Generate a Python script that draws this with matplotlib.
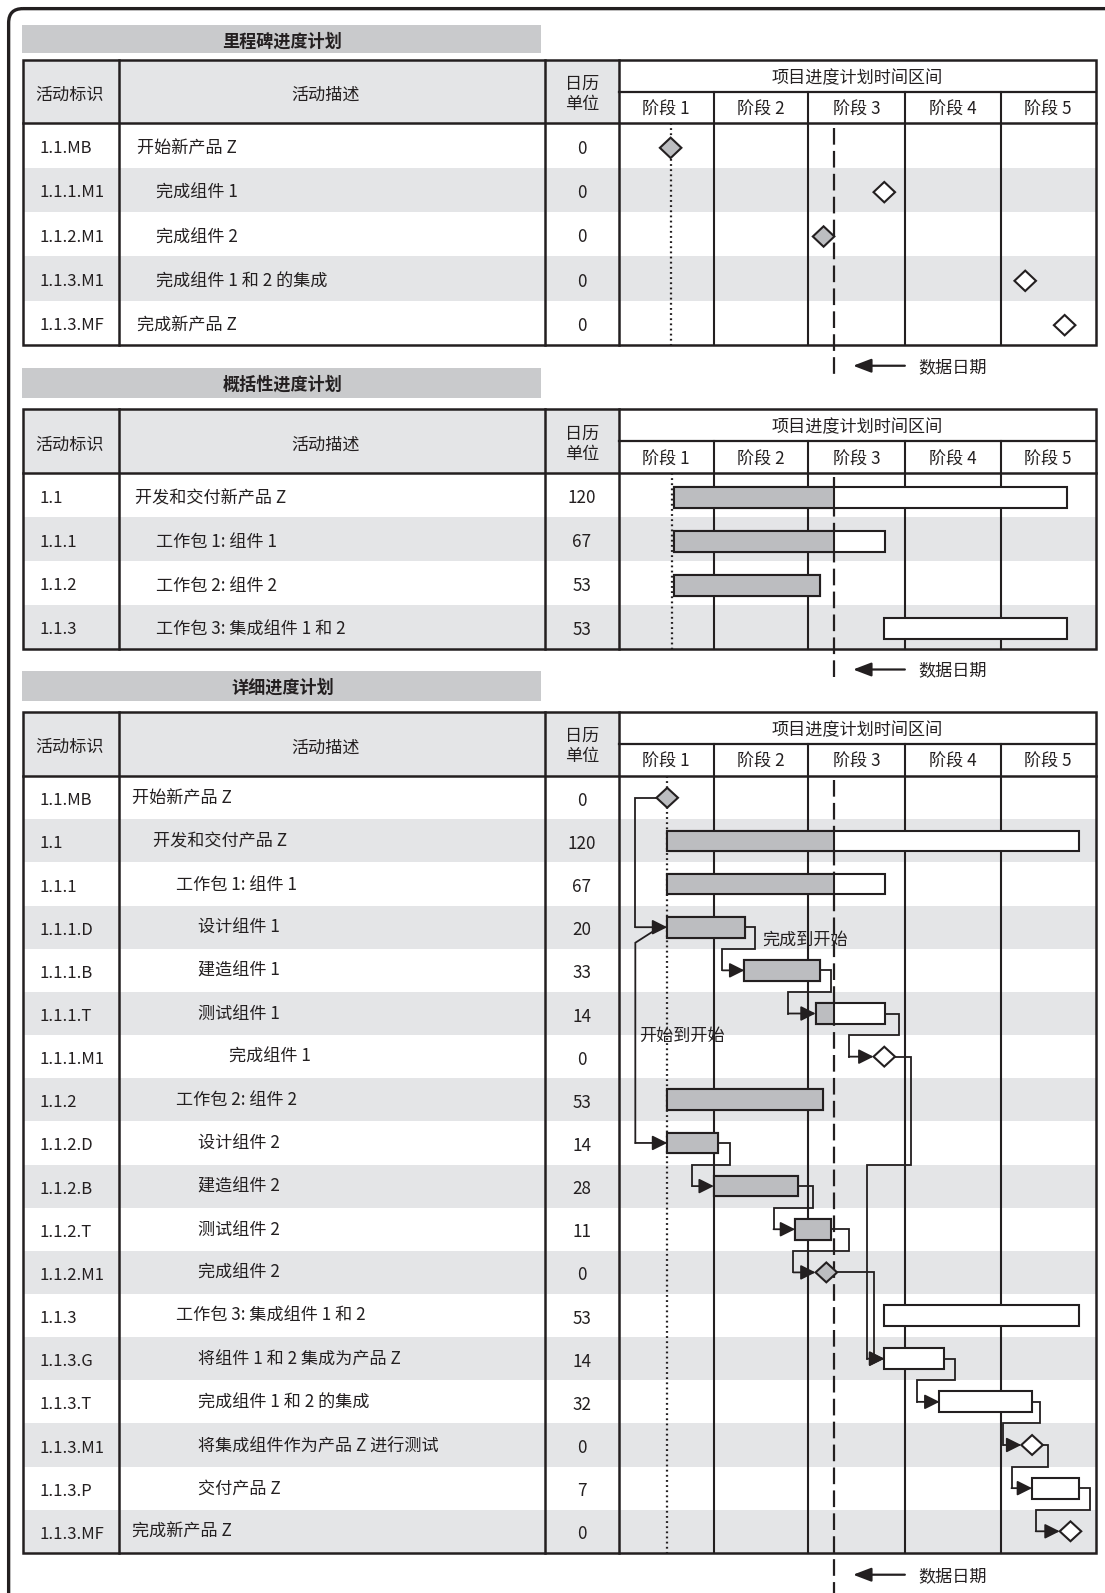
import matplotlib
matplotlib.use('Agg')
import matplotlib.pyplot as plt
from matplotlib.patches import Rectangle, Polygon, FancyBboxPatch
from matplotlib.transforms import blended_transform_factory

plt.rcParams['font.family'] = ['Noto Sans CJK SC', 'DejaVu Sans']
plt.rcParams['lines.scale_dashes'] = False

# ======================= DATA =======================
section_titles = ['里程碑进度计划', '概括性进度计划', '详细进度计划']
col_headers = ['活动标识', '活动描述', '日历\n单位']
timeline_title = '项目进度计划时间区间'
stage_labels = ['阶段 1', '阶段 2', '阶段 3', '阶段 4', '阶段 5']
stage_edges = [-14.2, 13.6, 41.1, 69.3, 97.2, 125.0]   # time axis (days)
data_date = 48.7
data_date_label = '数据日期'
link_labels = ['完成到开始', '开始到开始']

# Milestone schedule
ms_ids = ['1.1.MB', '1.1.1.M1', '1.1.2.M1', '1.1.3.M1', '1.1.3.MF']
ms_desc = ['开始新产品 Z', '完成组件 1', '完成组件 2', '完成组件 1 和 2 的集成', '完成新产品 Z']
ms_level = [0, 1, 1, 1, 0]
ms_units = [0, 0, 0, 0, 0]
ms_time = [1.0, 63.3, 45.6, 104.4, 115.9]

# Summary schedule
sum_ids = ['1.1', '1.1.1', '1.1.2', '1.1.3']
sum_desc = ['开发和交付新产品 Z', '工作包 1: 组件 1', '工作包 2: 组件 2', '工作包 3: 集成组件 1 和 2']
sum_level = [0, 1, 1, 1]
sum_units = [120, 67, 53, 53]
sum_start = [1.9, 1.9, 1.9, 63.3]
sum_end = [116.7, 63.5, 44.7, 116.7]

# Detailed schedule
det_ids = ['1.1.MB', '1.1', '1.1.1', '1.1.1.D', '1.1.1.B', '1.1.1.T', '1.1.1.M1',
           '1.1.2', '1.1.2.D', '1.1.2.B', '1.1.2.T', '1.1.2.M1', '1.1.3', '1.1.3.G',
           '1.1.3.T', '1.1.3.M1', '1.1.3.P', '1.1.3.MF']
det_desc = ['开始新产品 Z', '开发和交付产品 Z', '工作包 1: 组件 1', '设计组件 1', '建造组件 1',
            '测试组件 1', '完成组件 1', '工作包 2: 组件 2', '设计组件 2', '建造组件 2',
            '测试组件 2', '完成组件 2', '工作包 3: 集成组件 1 和 2', '将组件 1 和 2 集成为产品 Z',
            '完成组件 1 和 2 的集成', '将集成组件作为产品 Z 进行测试', '交付产品 Z', '完成新产品 Z']
det_level = [0, 1, 2, 3, 3, 3, 4, 2, 3, 3, 3, 3, 2, 3, 3, 3, 3, 0]
det_units = [0, 120, 67, 20, 33, 14, 0, 53, 14, 28, 11, 0, 53, 14, 32, 0, 7, 0]
det_kind = ['m', 'b', 'b', 'b', 'b', 'b', 'm', 'b', 'b', 'b', 'b', 'm', 'b', 'b', 'b', 'm', 'b', 'm']
det_start = [0, 0, 0, 0, 22.5, 43.3, 63.3, 0, 0, 13.6, 37.3, 46.4, 63.3, 63.3, 79.4, 106.4, 106.4, 117.6]
det_end = [0, 120, 63.5, 22.7, 44.5, 63.5, 63.3, 45.3, 14.8, 38.0, 47.7, 46.4, 120, 80.6, 106.4, 106.4, 120, 117.6]

# finish-to-start links (predecessor, successor)
fs_links = [('1.1.1.D', '1.1.1.B'), ('1.1.1.B', '1.1.1.T'), ('1.1.1.T', '1.1.1.M1'),
            ('1.1.1.M1', '1.1.3.G'), ('1.1.2.D', '1.1.2.B'), ('1.1.2.B', '1.1.2.T'),
            ('1.1.2.T', '1.1.2.M1'), ('1.1.2.M1', '1.1.3.G'), ('1.1.3.G', '1.1.3.T'),
            ('1.1.3.T', '1.1.3.M1'), ('1.1.3.M1', '1.1.3.P'), ('1.1.3.P', '1.1.3.MF')]
# start-to-start links
ss_links = [('1.1.MB', '1.1.1.D'), ('1.1.1.D', '1.1.2.D')]

# ======================= STYLE / LAYOUT =======================
LINE = '#231f20'
SHADE = '#e4e5e7'
TITLE_BG = '#c9cacc'
BAR_GRAY = '#bcbdc0'
FS = 12.3
TY = 3.0   # vertical text nudge (px)

W, H = 1088.0, 1568.0
X_ID, X_DESC, X_UNIT, X_CHART, X_RIGHT = 23, 117, 537, 609, 1079
SECTIONS = [
    dict(title=(25, 52), top=59, split=90.5, hb=121.5, bottom=339.7,
         indents=[135, 154], dd_end=371, dd_arrow=360, desc_dy=0),
    dict(title=(362, 392), top=403, split=434, hb=466, bottom=638.4,
         indents=[133, 154], dd_end=670, dd_arrow=659, desc_dy=0),
    dict(title=(660, 690), top=701, split=732, hb=764, bottom=1528.5,
         indents=[130, 151, 173, 195, 225], dd_end=1580, dd_arrow=1550, desc_dy=-2.5),
]
# routing of finish-to-start connectors: (out, back, drop_row, direct)
fs_route = {
    ('1.1.1.D', '1.1.1.B'): (3.0, 6.4, None, False),
    ('1.1.1.B', '1.1.1.T'): (3.2, 8.0, None, False),
    ('1.1.1.T', '1.1.1.M1'): (4.0, 7.2, None, False),
    ('1.1.1.M1', '1.1.3.G'): (4.7, 5.0, 9.0, False),
    ('1.1.2.D', '1.1.2.B'): (3.5, 6.3, None, False),
    ('1.1.2.B', '1.1.2.T'): (4.6, 6.3, None, False),
    ('1.1.2.T', '1.1.2.M1'): (5.2, 6.5, None, False),
    ('1.1.2.M1', '1.1.3.G'): (0, 3.0, None, True),
    ('1.1.3.G', '1.1.3.T'): (3.2, 6.5, None, False),
    ('1.1.3.T', '1.1.3.M1'): (2.4, 5.2, None, False),
    ('1.1.3.M1', '1.1.3.P'): (1.5, 6.0, None, False),
    ('1.1.3.P', '1.1.3.MF'): (3.2, 7.0, None, False),
}
SS_LANE = -9.3
HW = 3.14      # diamond half width (days)
HH = 0.23      # diamond half height (rows)
BAR_H = 0.48

fig = plt.figure(figsize=(11.05, 15.93), dpi=100)
bg = fig.add_axes([0, 0, 1, 1])
bg.set_xlim(0, W)
bg.set_ylim(H, 0)
bg.axis('off')

bg.add_patch(FancyBboxPatch((8.5, 8.5), 1300, 1800,
                            boxstyle='round,pad=0,rounding_size=14',
                            fc='none', ec=LINE, lw=2.4, zorder=5))


def draw_section(L, title, ids, descs, levels, units):
    n = len(ids)
    rh = (L['bottom'] - L['hb']) / n
    t0, t1 = L['title']
    bg.add_patch(Rectangle((22, t0), 511, t1 - t0, fc=TITLE_BG, ec='none', zorder=1))
    bg.text(278, (t0 + t1) / 2 + TY - 1, title, ha='center', va='center', fontsize=FS,
            fontweight='bold', color=LINE, zorder=4)
    bg.add_patch(Rectangle((X_ID, L['top']), X_CHART - X_ID, L['hb'] - L['top'],
                           fc=SHADE, ec='none', zorder=1))
    for i in range(n):
        if i % 2 == 1:
            bg.add_patch(Rectangle((X_ID, L['hb'] + i * rh), X_RIGHT - X_ID, rh,
                                   fc=SHADE, ec='none', zorder=1))
    ax = fig.add_axes([X_CHART / W, 1 - L['bottom'] / H, (X_RIGHT - X_CHART) / W,
                       (L['bottom'] - L['hb']) / H])
    ax.set_xlim(stage_edges[0], stage_edges[-1])
    ax.set_ylim(n, 0)
    ax.axis('off')
    ax.patch.set_alpha(0)
    ax.set_zorder(2)
    tr = blended_transform_factory(ax.transData, bg.transData)
    for e in stage_edges[1:-1]:
        bg.plot([e, e], [L['split'], L['bottom']], transform=tr, color=LINE, lw=1.5, zorder=2)
    for k, lab in enumerate(stage_labels):
        bg.text((stage_edges[k] + stage_edges[k + 1]) / 2, (L['split'] + L['hb']) / 2 + TY - 1,
                lab, transform=tr, ha='center', va='center', fontsize=FS, color=LINE, zorder=4)
    bg.text((X_CHART + X_RIGHT) / 2, (L['top'] + L['split']) / 2 + TY - 1, timeline_title,
            ha='center', va='center', fontsize=FS, color=LINE, zorder=4)
    # table lines
    bg.add_patch(Rectangle((X_ID, L['top']), X_RIGHT - X_ID, L['bottom'] - L['top'],
                           fc='none', ec=LINE, lw=1.8, zorder=3))
    for x in (X_DESC, X_UNIT, X_CHART):
        bg.plot([x, x], [L['top'], L['bottom']], color=LINE, lw=1.8, zorder=3)
    bg.plot([X_ID, X_RIGHT], [L['hb'], L['hb']], color=LINE, lw=1.8, zorder=3)
    bg.plot([X_CHART, X_RIGHT], [L['split'], L['split']], color=LINE, lw=1.6, zorder=3)
    # header text
    hc = (L['top'] + L['hb']) / 2 + TY
    bg.text(68, hc, col_headers[0], ha='center', va='center', fontsize=FS, color=LINE, zorder=4)
    bg.text(320, hc, col_headers[1], ha='center', va='center', fontsize=FS, color=LINE, zorder=4)
    bg.text(573, hc - 1, col_headers[2], ha='center', va='center', fontsize=FS, color=LINE,
            linespacing=1.15, zorder=4)
    for i in range(n):
        yc = L['hb'] + (i + 0.5) * rh + TY
        bg.text(38.5, yc, ids[i], ha='left', va='center', fontsize=12, color=LINE, zorder=4)
        bg.text(L['indents'][levels[i]], yc + L['desc_dy'], descs[i], ha='left', va='center',
                fontsize=FS, color=LINE, zorder=4)
        bg.text(573, yc, str(units[i]), ha='center', va='center', fontsize=FS,
                color=LINE, zorder=4)
    # data date
    bg.plot([data_date, data_date], [L['hb'] + 4, L['dd_end']], transform=tr, color=LINE,
            lw=1.6, dashes=(12, 4.5), zorder=2, clip_on=False)
    bg.annotate('', xy=(data_date + 5.5, L['dd_arrow']), xycoords=tr,
                xytext=(data_date + 20.6, L['dd_arrow']), textcoords=tr,
                arrowprops=dict(arrowstyle='-|>,head_length=1.1,head_width=0.42',
                                mutation_scale=10, color=LINE, lw=1.6,
                                shrinkA=0, shrinkB=0), zorder=4)
    bg.text(data_date + 24.5, L['dd_arrow'] + 1, data_date_label, transform=tr, ha='left',
            va='center', fontsize=FS, color=LINE, zorder=4)
    return ax, tr, L


def start_line(tr, L, x):
    bg.plot([x, x], [L['hb'], L['bottom']], transform=tr, color=LINE, lw=1.6,
            ls=(0, (1.3, 2.4)), zorder=2)


def diamond(ax, t, y):
    fc = BAR_GRAY if t < data_date else 'white'
    ax.add_patch(Polygon([(t - HW, y), (t, y - HH), (t + HW, y), (t, y + HH)], closed=True,
                         fc=fc, ec=LINE, lw=1.5, zorder=5))


def bar(ax, s, e, y):
    ax.add_patch(Rectangle((s, y - BAR_H / 2), e - s, BAR_H, fc='white', ec=LINE,
                           lw=1.5, zorder=4))
    if s < data_date:
        ax.add_patch(Rectangle((s, y - BAR_H / 2), min(e, data_date) - s, BAR_H,
                               fc=BAR_GRAY, ec=LINE, lw=1.5, zorder=4))


def arrow(ax, p0, p1):
    ax.annotate('', xy=p1, xytext=p0,
                arrowprops=dict(arrowstyle='-|>,head_length=0.9,head_width=0.45',
                                mutation_scale=10, color=LINE, lw=1.3,
                                shrinkA=0, shrinkB=0), zorder=6)


# ---- Section 1: milestones ----
ax1, tr1, L1 = draw_section(SECTIONS[0], section_titles[0], ms_ids, ms_desc, ms_level, ms_units)
start_line(tr1, L1, ms_time[0])
for i, t in enumerate(ms_time):
    diamond(ax1, t, i + 0.55)

# ---- Section 2: summary ----
ax2, tr2, L2 = draw_section(SECTIONS[1], section_titles[1], sum_ids, sum_desc, sum_level, sum_units)
start_line(tr2, L2, sum_start[0] - 0.4)
for i in range(len(sum_ids)):
    bar(ax2, sum_start[i], sum_end[i], i + 0.55)

# ---- Section 3: detailed ----
ax3, tr3, L3 = draw_section(SECTIONS[2], section_titles[2], det_ids, det_desc, det_level, det_units)
start_line(tr3, L3, det_start[0])
for i in range(len(det_ids)):
    if det_kind[i] == 'm':
        diamond(ax3, det_start[i], i + 0.5)
    else:
        bar(ax3, det_start[i], det_end[i], i + 0.5)

idx = {k: i for i, k in enumerate(det_ids)}


def right_edge(i):
    return det_end[i] + (HW if det_kind[i] == 'm' else 0)


def left_edge(i):
    return det_start[i] - (HW if det_kind[i] == 'm' else 0)


for (p, s) in fs_links:
    ip, isu = idx[p], idx[s]
    out, back, drop, direct = fs_route[(p, s)]
    yp, ys = ip + 0.5, isu + 0.5
    x0 = right_edge(ip)
    xt = left_edge(isu)
    xl = xt - back
    if direct:
        pts = [(x0, yp), (xl, yp), (xl, ys)]
    else:
        yd = ip + 1.0 if drop is None else drop
        x1 = x0 + out
        pts = [(x0, yp), (x1, yp), (x1, yd), (xl, yd), (xl, ys)]
    ax3.plot([q[0] for q in pts], [q[1] for q in pts], color=LINE, lw=1.3, zorder=3,
             solid_joinstyle='miter', clip_on=False)
    arrow(ax3, (xl, ys), (xt, ys))

# start-to-start: MB -> 1.1.1.D
ia, ib = idx[ss_links[0][0]], idx[ss_links[0][1]]
ax3.plot([left_edge(ia), SS_LANE, SS_LANE], [ia + 0.5, ia + 0.5, ib + 0.5], color=LINE,
         lw=1.3, zorder=3, solid_joinstyle='miter')
arrow(ax3, (SS_LANE, ib + 0.5), (det_start[ib], ib + 0.5))
# start-to-start: 1.1.1.D -> 1.1.2.D
ic, id_ = idx[ss_links[1][0]], idx[ss_links[1][1]]
ax3.plot([SS_LANE, SS_LANE, det_start[ic] - 3.4], [id_ + 0.5, ic + 0.86, ic + 0.56],
         color=LINE, lw=1.3, zorder=3, solid_joinstyle='miter')
arrow(ax3, (SS_LANE, id_ + 0.5), (det_start[id_], id_ + 0.5))

ax3.text(27.6, idx['1.1.1.D'] + 0.78, link_labels[0], ha='left', va='center',
         fontsize=FS, color=LINE, zorder=7)
ax3.text(-8.3, idx['1.1.1.M1'] + 0.03, link_labels[1], ha='left', va='center',
         fontsize=FS, color=LINE, zorder=7)

fig.savefig('out.png', dpi=100)
